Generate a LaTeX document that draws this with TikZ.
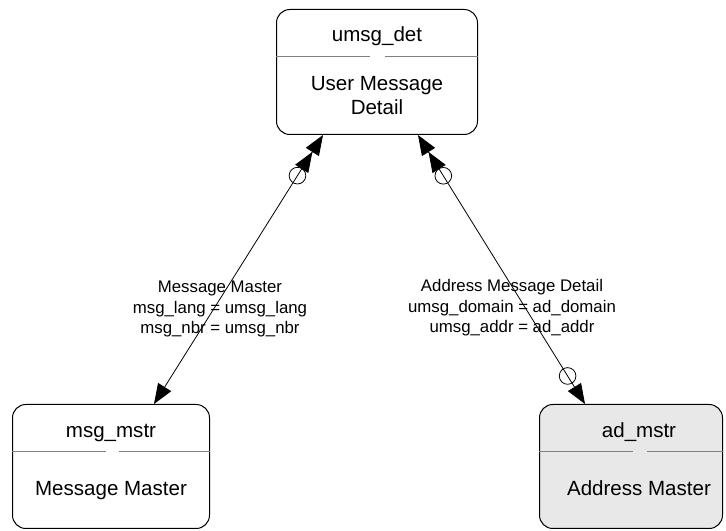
\documentclass[tikz,border=0pt]{standalone}
\usepackage{fontspec}
\setmainfont{Liberation Sans}
\usetikzlibrary{arrows.meta,calc}

\tikzset{
  entity/.style={draw, rounded corners=10pt, inner sep=0pt, line width=0.75pt},
  divider/.style={draw=black!50, line width=0.75pt},
  boxtext/.style={font=\fontsize{15.4}{18}\selectfont, anchor=base, inner sep=0pt},
  reltext/.style={font=\fontsize{12.6}{15.4}\selectfont, align=center, anchor=base, inner sep=0pt},
  ringmark/.style={draw, circle, minimum size=12.5pt, inner sep=0pt, line width=0.6pt},
  rel/.style={line width=0.6pt},
  tri/.tip={Triangle[length=15pt,width=11.5pt]}
}

\begin{document}
\begin{tikzpicture}[x=0.75pt, y=-0.75pt]
  \useasboundingbox (0,0) rectangle (726,531);

  % entities
  \node [entity, minimum width=150.75pt, minimum height=93.75pt, anchor=north west] (umsgdet) at (276,9) {};
  \node [entity, minimum width=147.75pt, minimum height=93pt, anchor=north west] (msgmstr) at (12,404) {};
  \node [entity, fill=black!9, minimum width=137.25pt, minimum height=93pt, anchor=north west] (admstr) at (539,404) {};

  \node [boxtext] (detname) at ($(umsgdet.north)+(0,33)$) {umsg\_det};
  \node [boxtext, align=center] (detdesc) at ($(umsgdet.north)+(0,106)$) {User Message\\Detail};
  \node [boxtext] (msgname) at ($(msgmstr.north)+(0,34)$) {msg\_mstr};
  \node [boxtext] (msgdesc) at ($(msgmstr.north)+(0,92)$) {Message Master};
  \node [boxtext] (adname) at ($(admstr.north)+(8,34)$) {ad\_mstr};
  \node [boxtext] (addesc) at ($(admstr.north)+(8,92)$) {Address Master};

  % dividers with the small gap
  \draw [divider] (umsgdet.west |- 0,57) -- (370,57);
  \draw [divider] (385,57) -- (umsgdet.east |- 0,57);
  \draw [divider] (msgmstr.west |- 0,452) -- (106,452);
  \draw [divider] (119,452) -- (msgmstr.east |- 0,452);
  \draw [divider] (admstr.west |- 0,452) -- (633,452);
  \draw [divider] (647,452) -- (admstr.east |- 0,452);

  % relationships
  \coordinate (detL) at ($(umsgdet.south west)+(47,0)$);
  \coordinate (detR) at ($(umsgdet.south west)+(142,0)$);
  \coordinate (msgT) at ($(msgmstr.north west)+(142,0)$);
  \coordinate (adT) at ($(admstr.north west)+(46,0)$);

  \draw [rel, {tri[sep=0pt]tri}-{tri}] (detL) -- (msgT);
  \draw [rel, {tri[sep=0pt]tri}-{tri}] (detR) -- (adT);

  \node [ringmark] (ringL) at ($(detL)!36pt!(msgT)$) {};
  \node [ringmark] (ringR) at ($(detR)!36pt!(adT)$) {};
  \node [ringmark] (ringA) at ($(adT)!24.75pt!(detR)$) {};

  \node [reltext] (relL) at (220,334) {Message Master\\msg\_lang = umsg\_lang\\msg\_nbr = umsg\_nbr};
  \node [reltext] (relR) at (512,333) {Address Message Detail\\umsg\_domain = ad\_domain\\umsg\_addr = ad\_addr};
\end{tikzpicture}
\end{document}
